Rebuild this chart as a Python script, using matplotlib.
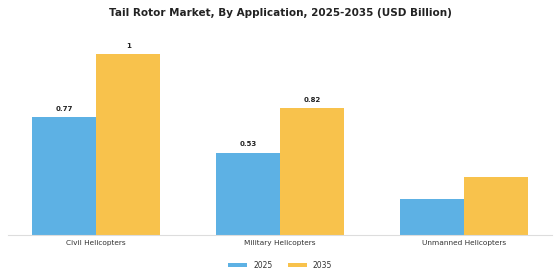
import matplotlib
matplotlib.use("Agg")
import matplotlib.pyplot as plt
import numpy as np

categories = ["Civil Helicopters", "Military Helicopters", "Unmanned Helicopters"]
years = ["2025", "2035"]
values_2025 = [0.653, 0.456, 0.20]
values_2035 = [1.0, 0.703, 0.32]
labels_2025 = ["0.77", "0.53", ""]
labels_2035 = ["1", "0.82", ""]
colors = ["#5DB1E4", "#F8C24C"]

fig = plt.figure(figsize=(5.6, 2.8), dpi=100)
ax = fig.add_axes([0.014, 0.161, 0.972, 0.696])

x = np.arange(len(categories))
w = 0.35
b1 = ax.bar(x - w / 2, values_2025, w, color=colors[0], label=years[0])
b2 = ax.bar(x + w / 2, values_2035, w, color=colors[1], label=years[1])

for bars, labs in ((b1, labels_2025), (b2, labels_2035)):
    for bar, lab in zip(bars, labs):
        if lab:
            ax.annotate(lab, (bar.get_x() + bar.get_width() / 2, bar.get_height()),
                        xytext=(0, 4), textcoords="offset points",
                        ha="center", va="bottom", fontsize=5, fontweight="bold",
                        color="#222222")

ax.set_xlim(-0.48, 2.48)
ax.set_ylim(0, 1.08)
ax.set_xticks(x)
ax.set_xticklabels(categories, fontsize=5.3, color="#333333")
ax.tick_params(axis="x", length=0, pad=4)
ax.set_yticks([])
for s in ("top", "right", "left"):
    ax.spines[s].set_visible(False)
ax.spines["bottom"].set_color("#dddddd")
ax.spines["bottom"].set_linewidth(0.8)

fig.suptitle("Tail Rotor Market, By Application, 2025-2035 (USD Billion)",
             x=0.5, y=0.97, fontsize=7.5, fontweight="bold", color="#222222")

fig.legend(loc="center", bbox_to_anchor=(0.5, 0.053), ncol=2, frameon=False,
           fontsize=5.5, handlelength=2.5, handleheight=0.6, columnspacing=2.0,
           labelcolor="#333333")

fig.savefig("out.png", dpi=100, facecolor="white")
